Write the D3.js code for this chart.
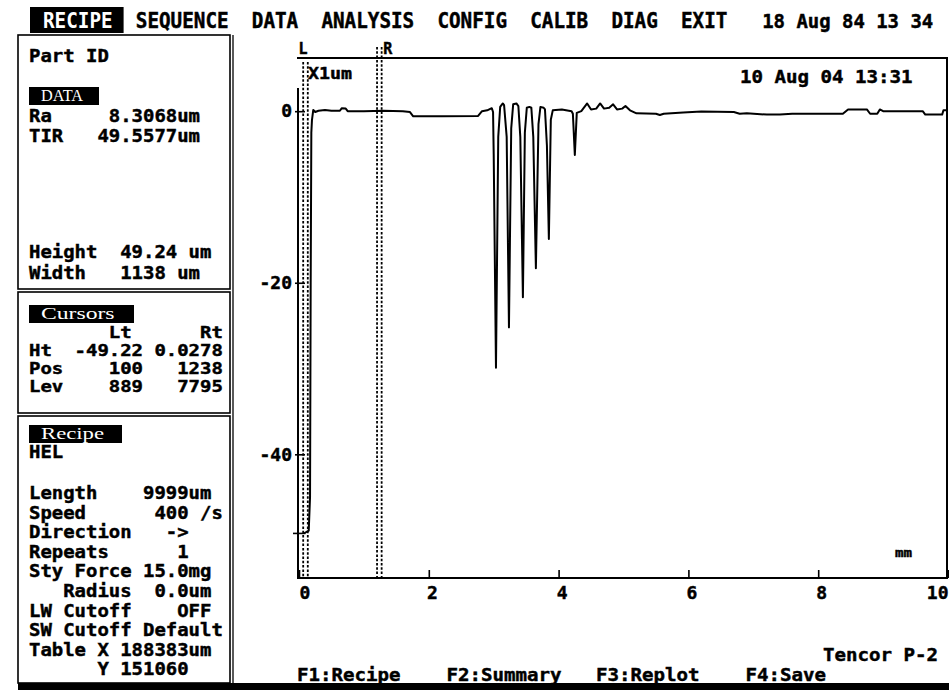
<!DOCTYPE html>
<html>
<head>
<meta charset="utf-8">
<script src="https://cdn.jsdelivr.net/npm/d3@7"></script>
<style>
  body { margin: 0; background: #fff; }
  text { white-space: pre; }
</style>
</head>
<body>
<div class="chart"></div>
<script>
// profile trace: [scan position mm, height um]
const profile = [
  [0.08, -49.2], [0.15, -48.9], [0.17, -45.0], [0.18, -20.0], [0.19, -2.5], [0.20, -1.0],
  [0.22, 0.15], [0.25, -0.1], [0.30, 0.05], [0.40, 0.15], [0.50, 0.05], [0.63, 0.05],
  [0.66, 0.35], [0.72, 0.3], [0.75, 0.0], [1.00, 0.0], [1.30, 0.05], [1.60, 0.0],
  [1.71, -0.1], [1.76, -0.6], [2.20, -0.6], [2.76, -0.55], [2.82, 0.0], [2.90, 0.1],
  [2.97, 0.35], [2.99, -0.1], [3.00, -5.0], [3.035, -29.9], [3.07, -3.0], [3.10, 0.5],
  [3.14, 0.9], [3.16, 0.7], [3.20, -3.0], [3.235, -25.2], [3.27, -2.0], [3.30, 0.8],
  [3.35, 0.9], [3.38, 0.6], [3.41, -3.0], [3.45, -21.7], [3.48, -2.5], [3.51, 0.4],
  [3.55, 0.5], [3.58, 0.4], [3.61, -3.0], [3.65, -18.3], [3.69, -1.5], [3.72, 0.5],
  [3.77, 0.4], [3.79, 0.2], [3.82, -4.0], [3.85, -14.9], [3.88, -1.0], [3.91, 0.1],
  [4.05, 0.2], [4.20, 0.0], [4.22, -0.3], [4.25, -5.1], [4.28, -0.2], [4.35, 0.0],
  [4.44, 0.9], [4.50, 0.2], [4.58, 0.3], [4.64, 0.9], [4.70, 0.3], [4.78, 0.4],
  [4.84, 0.8], [4.90, 0.2], [4.98, 0.3], [5.03, 0.6], [5.10, 0.1], [5.20, -0.25],
  [5.50, -0.3], [5.56, -0.45], [5.62, -0.3], [5.92, -0.15], [6.20, -0.05], [6.70, -0.1],
  [6.79, -0.3], [6.90, -0.25], [7.21, -0.4], [7.41, -0.4], [7.60, -0.3], [8.38, -0.3],
  [8.46, 0.2], [8.75, 0.2], [8.80, -0.3], [8.91, -0.3], [8.95, 0.2], [9.00, 0.0],
  [9.61, 0.0], [9.65, -0.4], [9.91, -0.4], [9.93, 0.1], [10.0, 0.1]
];
const xTicks = [0, 2, 4, 6, 8, 10];
const yTicks = [0, -20, -40];
const cursorNames = ['L', 'R'];
const cursorPos = [0.100, 1.238];
const cursorHt = [-49.22, 0.0278];

const menuItems = ['RECIPE', 'SEQUENCE', 'DATA', 'ANALYSIS', 'CONFIG', 'CALIB', 'DIAG', 'EXIT'];
const clockText = '18 Aug 84 13 34';
const stampText = '10 Aug 04 13:31';
const fKeys = ['F1:Recipe', 'F2:Summary', 'F3:Replot', 'F4:Save'];

const dataRows = ['Ra     8.3068um', 'TIR   49.5577um'];
const sizeRows = ['Height  49.24 um', 'Width   1138 um'];
const cursorRows = ['       Lt      Rt', 'Ht  -49.22 0.0278', 'Pos    100   1238', 'Lev    889   7795'];
const recipeRows = [
  'Length    9999um', 'Speed      400 /s', 'Direction   ->', 'Repeats      1',
  'Sty Force 15.0mg', '   Radius  0.0um', 'LW Cutoff    OFF', 'SW Cutoff Default',
  'Table X 188383um', '      Y 151060'
];

const MONO = "'DejaVu Sans Mono', 'Liberation Mono', monospace";
const SERIF = "'Liberation Serif', 'DejaVu Serif', serif";

let screen = {
  svg: {},
  x: {},
  y: {},
  config: { w: 949, h: 690, left: 299, right: 948, top: 58, bottom: 577, cw: 11.4 },

  txt: function (x, y, s, o) {
    o = o || {};
    const fill = o.fill || '#000';
    const t = this.svg.append('text')
      .attr('x', x).attr('y', y)
      .attr('xml:space', 'preserve')
      .attr('font-family', o.family || MONO)
      .attr('font-weight', o.weight || 'bold')
      .attr('font-size', o.size || 18)
      .attr('fill', fill)
      .text(s);
    // a thin outline makes the glyphs as heavy as the old screen font
    if (fill === '#000') t.attr('stroke', '#000').attr('stroke-width', 0.45);
    if (o.cw !== 0) t.attr('textLength', s.length * (o.cw || this.config.cw)).attr('lengthAdjust', 'spacingAndGlyphs');
    if (o.anchor) t.attr('text-anchor', o.anchor);
    return t;
  },

  init: function () {
    this.svg = d3.select('.chart').append('svg')
      .attr('width', this.config.w)
      .attr('height', this.config.h);
    this.x = d3.scaleLinear().domain([0, 10]).range([this.config.left, this.config.right]);
    this.y = d3.scaleLinear().domain([-54.3, 6.2]).range([this.config.bottom, this.config.top]);
    this.header();
    this.panel();
    this.plot();
    this.footer();
  },

  header: function () {
    // one row of 80-column text, active item inverted
    const cw = 11.6, x0 = 43;
    let col = 0;
    menuItems.forEach((m, i) => {
      const xx = x0 + col * cw;
      if (i === 0) {
        this.svg.append('rect').attr('x', xx - 13).attr('y', 7)
          .attr('width', m.length * cw + 24).attr('height', 26).attr('fill', '#000');
      }
      this.txt(xx, 28, m, { size: 21, cw: cw, fill: i === 0 ? '#fff' : '#000' });
      col += m.length + 2;
    });
    this.txt(x0 + (col + 1) * cw, 28, clockText, { size: 19.5, cw: 11.4 });
  },

  tag: function (x, y, w, s) {
    this.svg.append('rect').attr('x', x).attr('y', y).attr('width', w).attr('height', 18).attr('fill', '#000');
    this.txt(x + 12, y + 14, s, { family: SERIF, weight: 'normal', size: 16, cw: 10.5, fill: '#fff' });
  },

  panel: function () {
    const svg = this.svg;
    const box = (y0, y1) => svg.append('rect').attr('x', 18).attr('y', y0)
      .attr('width', 212).attr('height', y1 - y0)
      .attr('fill', 'none').attr('stroke', '#000').attr('stroke-width', 1.6);
    box(35, 289); box(292, 413); box(416, 683);
    svg.append('line').attr('x1', 233).attr('x2', 233).attr('y1', 35).attr('y2', 683)
      .attr('stroke', '#000').attr('stroke-width', 1.3);

    const x0 = 29;
    this.txt(x0, 62, 'Part ID');
    this.tag(x0, 87, 70, 'DATA');
    dataRows.forEach((r, i) => this.txt(x0, 122 + i * 20, r));
    sizeRows.forEach((r, i) => this.txt(x0, 258 + i * 21, r));

    this.tag(x0, 305, 105, 'Cursors');
    cursorRows.forEach((r, i) => this.txt(x0, 338 + i * 18, r, { size: 16 }));

    this.tag(x0, 425, 93, 'Recipe');
    this.txt(x0, 458, 'HEL');
    recipeRows.forEach((r, i) => this.txt(x0, 499 + i * 19.6, r));
  },

  plot: function () {
    const svg = this.svg, x = this.x, y = this.y, c = this.config;

    // frame: left side starts a bit below the top rule
    svg.append('path')
      .attr('d', `M${c.left - 1},88V${c.bottom + 1}H${c.right - 1}V${c.top}H${c.left - 2}`)
      .attr('fill', 'none').attr('stroke', '#000').attr('stroke-width', 2);

    const yAxis = d3.axisLeft(y).tickValues(yTicks).tickSizeInner(-7).tickSizeOuter(0)
      .tickPadding(6).tickFormat(d => String(d));
    const gy = svg.append('g').attr('transform', `translate(${c.left - 1},0)`).call(yAxis);
    gy.select('.domain').remove();
    gy.selectAll('line').attr('x1', -3).attr('stroke-width', 1.6);
    gy.selectAll('text').attr('font-family', MONO).attr('font-weight', 'bold').attr('font-size', 18)
      .attr('stroke', '#000').attr('stroke-width', 0.45);

    const xAxis = d3.axisBottom(x).tickValues(xTicks).tickSizeInner(-8).tickSizeOuter(0).tickPadding(8);
    const gx = svg.append('g').attr('transform', `translate(0,${c.bottom + 1})`).call(xAxis);
    gx.select('.domain').remove();
    gx.selectAll('line').attr('stroke-width', 1.6);
    gx.selectAll('text').attr('font-family', MONO).attr('font-weight', 'bold').attr('font-size', 18)
      .attr('stroke', '#000').attr('stroke-width', 0.45)
      .attr('text-anchor', (d, i) => i === 0 ? 'start' : (i === xTicks.length - 1 ? 'end' : 'middle'))
      .attr('dx', (d, i) => (i === 0 || i === xTicks.length - 1) ? 0 : 3);

    // cursors: double dashed lines
    cursorPos.forEach((p, i) => {
      const cx = x(p), top = i === 0 ? 62 : 47;
      [-2.3, 2.3].forEach(off => {
        svg.append('line').attr('x1', cx + off).attr('x2', cx + off)
          .attr('y1', top).attr('y2', c.bottom)
          .attr('stroke', '#000').attr('stroke-width', 1.8).attr('stroke-dasharray', '2.5,1.8');
      });
      this.txt(i === 0 ? cx - 7 : cx + 4, 54, cursorNames[i], { size: 15, cw: 0 });
    });
    // level marker of left cursor on the axis
    svg.append('line').attr('x1', c.left - 6).attr('x2', x(cursorPos[0]))
      .attr('y1', y(cursorHt[0])).attr('y2', y(cursorHt[0]))
      .attr('stroke', '#000').attr('stroke-width', 1.6);

    const line = d3.line().x(d => x(d[0])).y(d => y(d[1]));
    svg.append('path')
      .attr('d', line(profile))
      .attr('fill', 'none').attr('stroke', '#000').attr('stroke-width', 2)
      .attr('stroke-linejoin', 'round');

    this.txt(308, 79, 'X1um', { size: 16, cw: 11 });
    this.txt(740, 83, stampText, { size: 18, cw: 11.5 });
    this.txt(895, 557, 'mm', { size: 13, cw: 8.5 });
  },

  footer: function () {
    const cw = 11.5;
    this.txt(823, 661, 'Tencor P-2', { cw: cw });
    fKeys.forEach((k, i) => this.txt(297 + i * 13 * cw, 681, k, { cw: cw }));
    this.svg.append('rect').attr('x', 18).attr('y', 683).attr('width', 931).attr('height', 7).attr('fill', '#000');
  }
};

screen.init();
</script>
</body>
</html>
